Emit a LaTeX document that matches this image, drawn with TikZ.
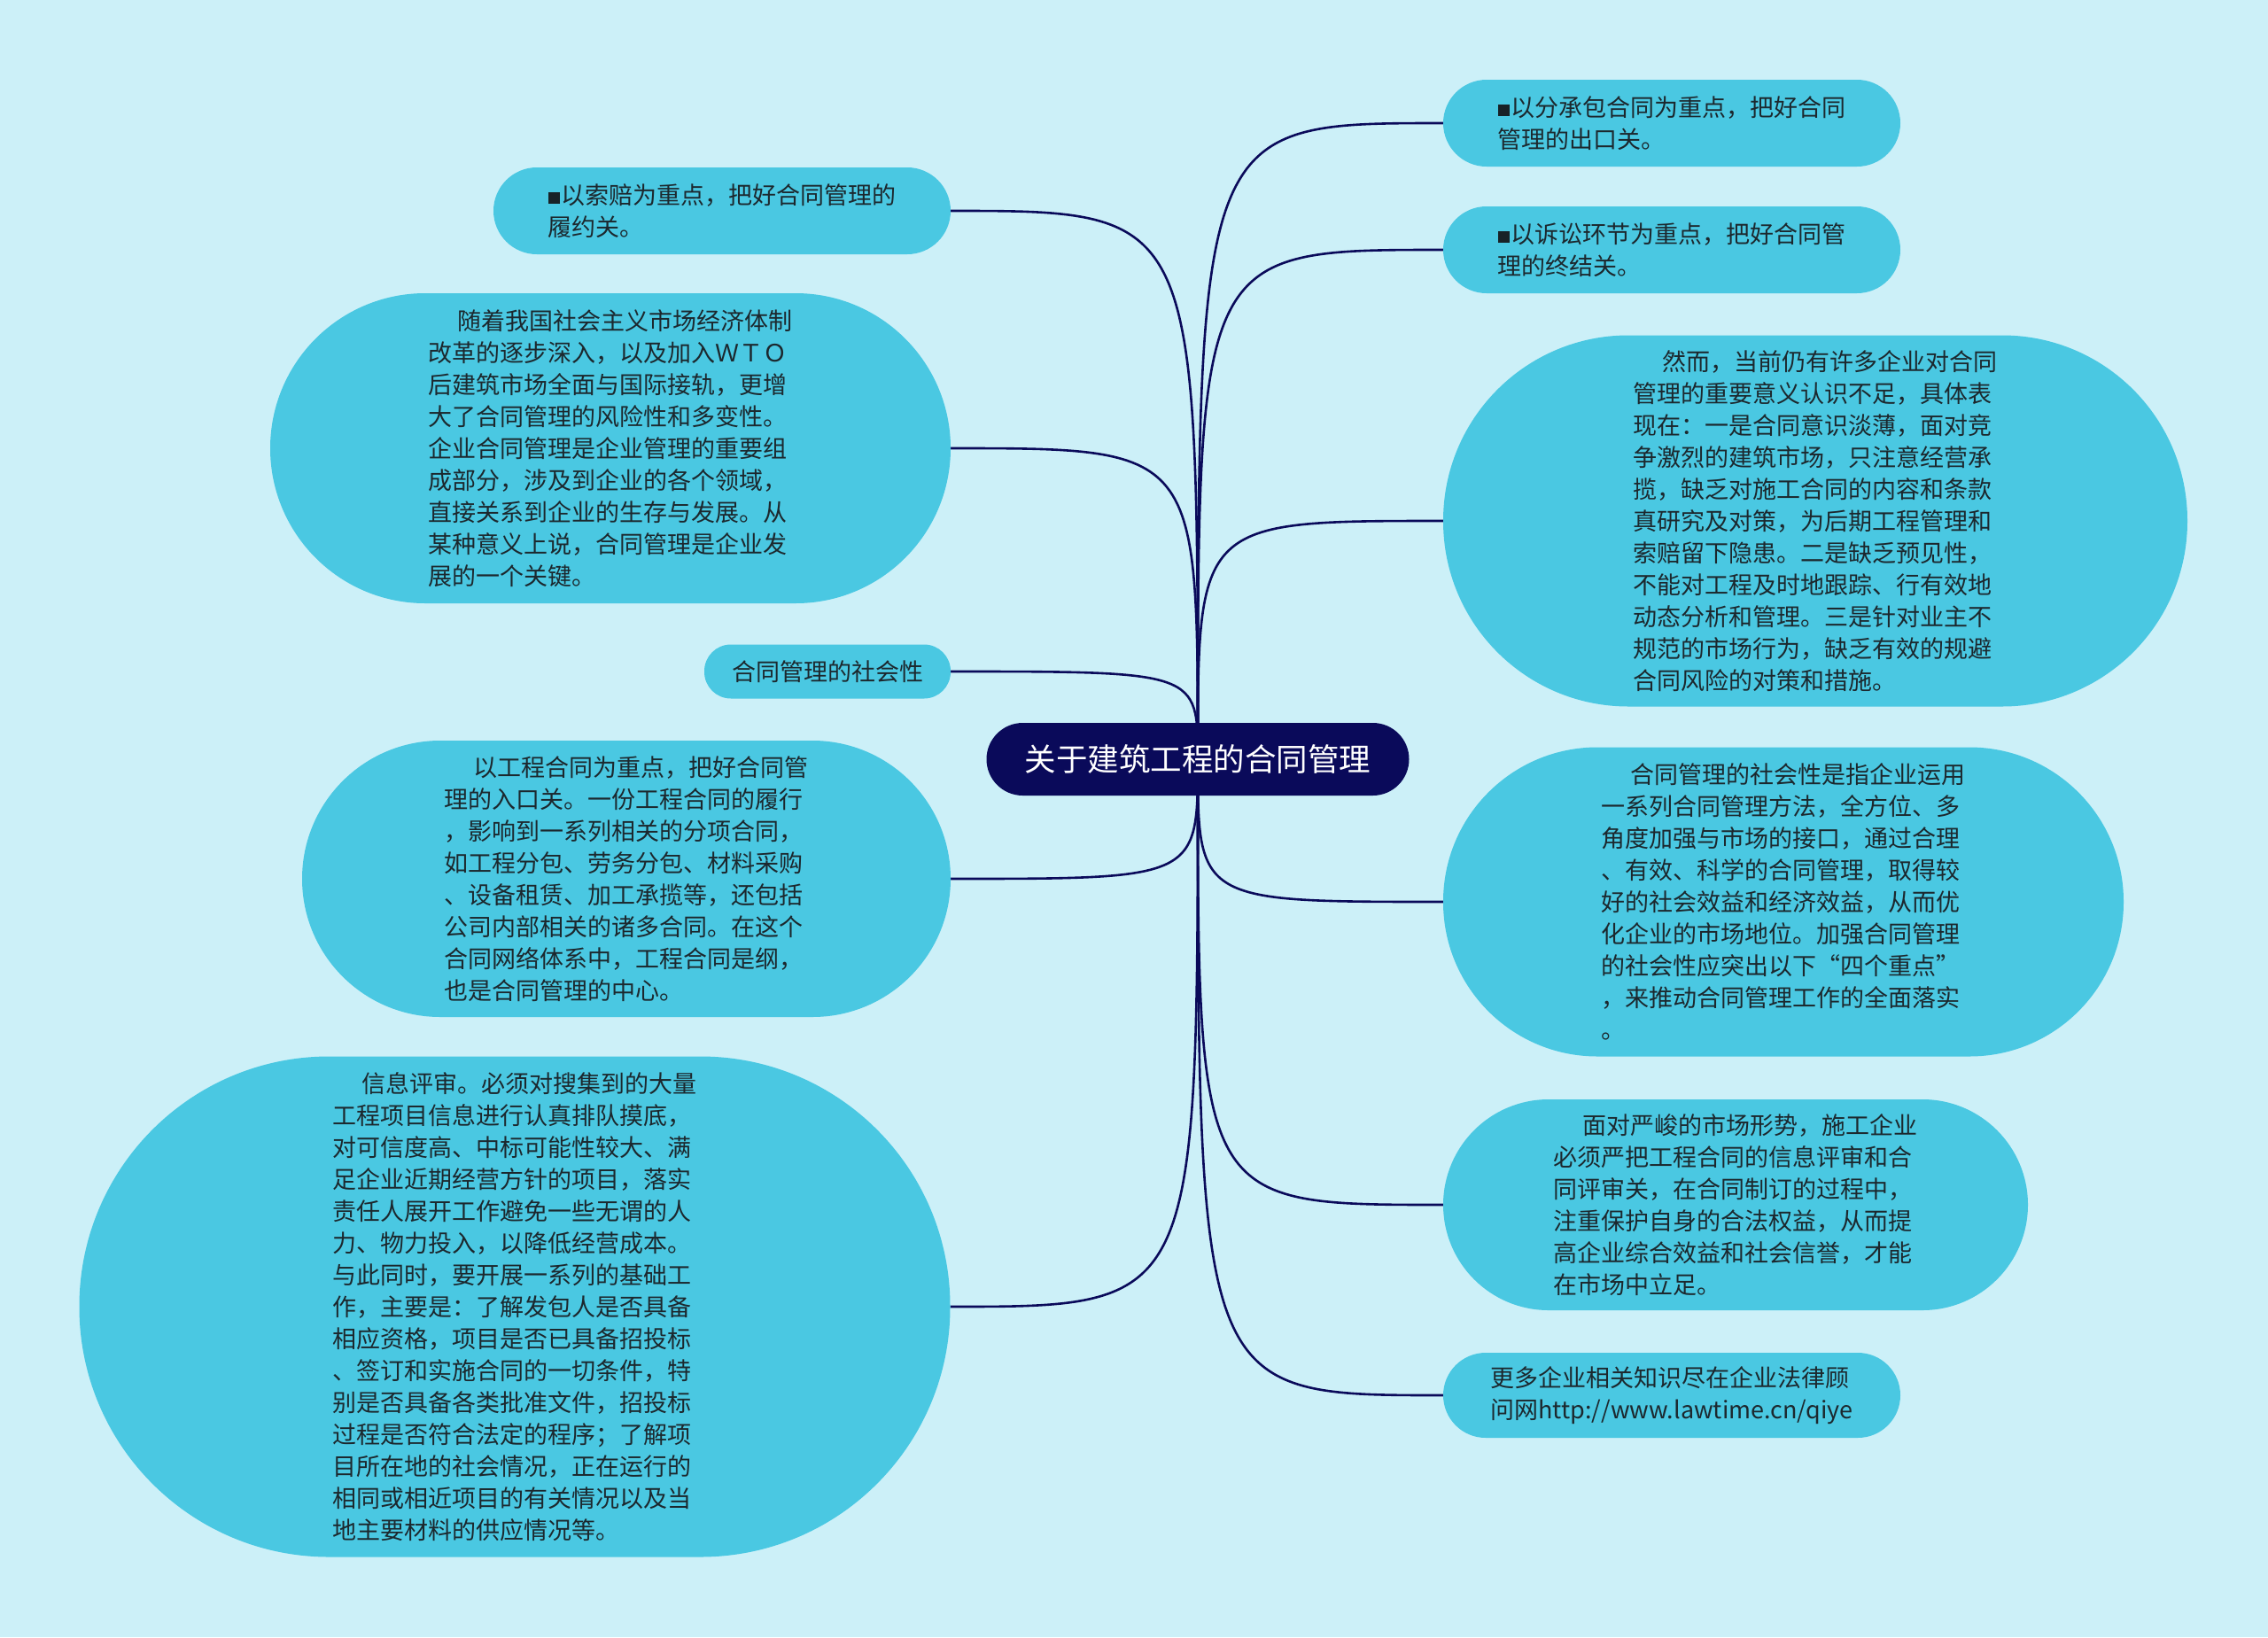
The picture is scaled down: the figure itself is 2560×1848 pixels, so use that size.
\documentclass[tikz,border=0pt]{standalone}
\usepackage{fontspec}
\setmainfont{Noto Sans CJK SC}
\usetikzlibrary{calc}
\definecolor{bgc}{HTML}{CCF0F8}
\definecolor{nodec}{HTML}{4AC8E2}
\definecolor{navy}{HTML}{0A0A5A}
\definecolor{txtc}{HTML}{1C282E}
\pgfdeclarelayer{back}
\pgfdeclarelayer{conn}
\pgfsetlayers{back,conn,main}
\newcommand{\ind}{\hspace*{1.2em}}
\newcommand{\sq}{\textcolor{txtc!85!black}{\rule{13pt}{13pt}}\hspace{2pt}}
\tikzset{
  bub/.style={fill=nodec, inner sep=0pt, align=left, text=txtc,
    font=\fontsize{27}{36}\selectfont},
  hub/.style={fill=navy, inner sep=0pt, text=white,
    minimum width=477pt, minimum height=82pt, rounded corners=41pt,
    font=\fontsize{35.5}{40}\selectfont},
  link/.style={draw=navy, line width=2.6pt}
}
\begin{document}
\begin{tikzpicture}[x=1pt,y=-1pt]
\begin{pgfonlayer}{back}
\fill[bgc] (0,0) rectangle (2560,1848);
\end{pgfonlayer}
\useasboundingbox (0,0) rectangle (2560,1848);

\node[hub] (c) at (1352,857) {关于建筑工程的合同管理};

\node[bub, minimum width=516pt, minimum height=98pt, rounded corners=49pt] (l1) at (815,238)
 {\sq 以索赔为重点，把好合同管理的\\履约关。};
\node[bub, minimum width=768pt, minimum height=350pt, rounded corners=175pt] (l2) at (689,506)
 {\ind 随着我国社会主义市场经济体制\\
 改革的逐步深入，以及加入ＷＴＯ\\
 后建筑市场全面与国际接轨，更增\\
 大了合同管理的风险性和多变性。\\
 企业合同管理是企业管理的重要组\\
 成部分，涉及到企业的各个领域，\\
 直接关系到企业的生存与发展。从\\
 某种意义上说，合同管理是企业发\\
 展的一个关键。};
\node[bub, minimum width=278pt, minimum height=61pt, rounded corners=30pt] (l3) at (934,758)
 {合同管理的社会性};
\node[bub, minimum width=732pt, minimum height=312pt, rounded corners=156pt] (l4) at (707,992)
 {\ind 以工程合同为重点，把好合同管\\
 理的入口关。一份工程合同的履行\\
 ，影响到一系列相关的分项合同，\\
 如工程分包、劳务分包、材料采购\\
 、设备租赁、加工承揽等，还包括\\
 公司内部相关的诸多合同。在这个\\
 合同网络体系中，工程合同是纲，\\
 也是合同管理的中心。};
\node[bub, minimum width=983pt, minimum height=565pt, rounded corners=282pt] (l5) at (581,1475)
 {\ind 信息评审。必须对搜集到的大量\\
 工程项目信息进行认真排队摸底，\\
 对可信度高、中标可能性较大、满\\
 足企业近期经营方针的项目，落实\\
 责任人展开工作避免一些无谓的人\\
 力、物力投入，以降低经营成本。\\
 与此同时，要开展一系列的基础工\\
 作，主要是：了解发包人是否具备\\
 相应资格，项目是否已具备招投标\\
 、签订和实施合同的一切条件，特\\
 别是否具备各类批准文件，招投标\\
 过程是否符合法定的程序；了解项\\
 目所在地的社会情况，正在运行的\\
 相同或相近项目的有关情况以及当\\
 地主要材料的供应情况等。};

\node[bub, minimum width=516pt, minimum height=98pt, rounded corners=49pt] (r1) at (1887,139)
 {\sq 以分承包合同为重点，把好合同\\管理的出口关。};
\node[bub, minimum width=516pt, minimum height=98pt, rounded corners=49pt] (r2) at (1887,282)
 {\sq 以诉讼环节为重点，把好合同管\\理的终结关。};
\node[bub, minimum width=840pt, minimum height=419pt, rounded corners=209pt] (r3) at (2049,588)
 {\ind 然而，当前仍有许多企业对合同\\
 管理的重要意义认识不足，具体表\\
 现在：一是合同意识淡薄，面对竞\\
 争激烈的建筑市场，只注意经营承\\
 揽，缺乏对施工合同的内容和条款\\
 真研究及对策，为后期工程管理和\\
 索赔留下隐患。二是缺乏预见性，\\
 不能对工程及时地跟踪、行有效地\\
 动态分析和管理。三是针对业主不\\
 规范的市场行为，缺乏有效的规避\\
 合同风险的对策和措施。};
\node[bub, minimum width=768pt, minimum height=349pt, rounded corners=174pt] (r4) at (2013,1018)
 {\ind 合同管理的社会性是指企业运用\\
 一系列合同管理方法，全方位、多\\
 角度加强与市场的接口，通过合理\\
 、有效、科学的合同管理，取得较\\
 好的社会效益和经济效益，从而优\\
 化企业的市场地位。加强合同管理\\
 的社会性应突出以下“四个重点”\\
 ，来推动合同管理工作的全面落实\\
 。};
\node[bub, minimum width=660pt, minimum height=238pt, rounded corners=119pt] (r5) at (1959,1360)
 {\ind 面对严峻的市场形势，施工企业\\
 必须严把工程合同的信息评审和合\\
 同评审关，在合同制订的过程中，\\
 注重保护自身的合法权益，从而提\\
 高企业综合效益和社会信誉，才能\\
 在市场中立足。};
\node[bub, minimum width=516pt, minimum height=96pt, rounded corners=48pt] (r6) at (1887,1575)
 {更多企业相关知识尽在企业法律顾\\问网http://www.lawtime.cn/qiye};

\begin{pgfonlayer}{conn}
\foreach \n in {l1,l2,l3,l4,l5}
  \draw[link] (c.center) .. controls (c.center |- \n.east) .. (\n.east);
\foreach \n in {r1,r2,r3,r4,r5,r6}
  \draw[link] (c.center) .. controls (c.center |- \n.west) .. (\n.west);
\end{pgfonlayer}
\end{tikzpicture}
\end{document}
